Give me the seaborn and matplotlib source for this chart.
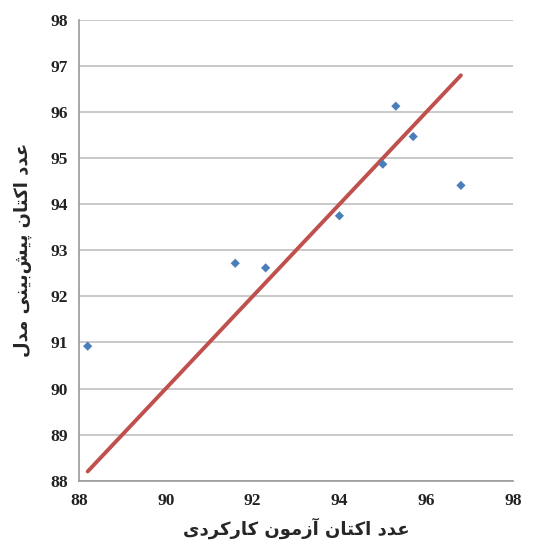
import matplotlib
matplotlib.use("Agg")
import matplotlib.pyplot as plt
import seaborn as sns
import pandas as pd

# Measured (engine test) vs. model-predicted octane numbers
measured = [88.2, 91.6, 92.3, 94.0, 95.0, 95.3, 95.7, 96.8]
predicted = [90.92, 92.72, 92.62, 93.75, 94.87, 96.13, 95.47, 94.41]

x_ticks = [88, 90, 92, 94, 96, 98]
y_ticks = [88, 89, 90, 91, 92, 93, 94, 95, 96, 97, 98]

x_label = "عدد اکتان آزمون کارکردی"
y_label = "عدد اکتان پیش‌بینی مدل"

# --- minimal Persian shaping (presentation forms + visual order) ---
FORMS = {
    # char: (isolated, final, initial, medial)
    "ا": ("\uFE8D", "\uFE8E", None, None),
    "آ": ("\uFE81", "\uFE82", None, None),
    "د": ("\uFEA9", "\uFEAA", None, None),
    "ر": ("\uFEAD", "\uFEAE", None, None),
    "ز": ("\uFEAF", "\uFEB0", None, None),
    "و": ("\uFEED", "\uFEEE", None, None),
    "ب": ("\uFE8F", "\uFE90", "\uFE91", "\uFE92"),
    "ت": ("\uFE95", "\uFE96", "\uFE97", "\uFE98"),
    "ش": ("\uFEB5", "\uFEB6", "\uFEB7", "\uFEB8"),
    "ع": ("\uFEC9", "\uFECA", "\uFECB", "\uFECC"),
    "ل": ("\uFEDD", "\uFEDE", "\uFEDF", "\uFEE0"),
    "م": ("\uFEE1", "\uFEE2", "\uFEE3", "\uFEE4"),
    "ن": ("\uFEE5", "\uFEE6", "\uFEE7", "\uFEE8"),
    "پ": ("\uFB56", "\uFB57", "\uFB58", "\uFB59"),
    "ک": ("\uFB8E", "\uFB8F", "\uFB90", "\uFB91"),
    "ی": ("\uFBFC", "\uFBFD", "\uFBFE", "\uFBFF"),
}


def joins_forward(ch):
    return ch in FORMS and FORMS[ch][2] is not None


def shape(text):
    out = []
    n = len(text)
    for i, ch in enumerate(text):
        if ch not in FORMS:
            if ch != "\u200c":
                out.append(ch)
            continue
        prev = text[i - 1] if i > 0 else ""
        nxt = text[i + 1] if i + 1 < n else ""
        join_prev = joins_forward(prev)
        join_next = joins_forward(ch) and nxt in FORMS
        iso, fin, ini, med = FORMS[ch]
        if join_prev and join_next:
            out.append(med)
        elif join_prev:
            out.append(fin)
        elif join_next:
            out.append(ini)
        else:
            out.append(iso)
    return "".join(reversed(out))


df = pd.DataFrame({"measured": measured, "predicted": predicted})
line_df = pd.DataFrame({"x": [min(measured), max(measured)],
                        "y": [min(measured), max(measured)]})

sns.set_style("white")
plt.rcParams["font.family"] = ["Liberation Serif", "DejaVu Sans"]

fig = plt.figure(figsize=(5.54, 5.41), dpi=100)
ax = fig.add_axes([0.1426, 0.1115, 0.7834, 0.8515])

sns.lineplot(data=line_df, x="x", y="y", ax=ax, color="#c0504d",
             linewidth=2.8, zorder=2)
sns.scatterplot(data=df, x="measured", y="predicted", ax=ax, marker="D",
                color="#4a7ebb", s=22, edgecolor="none", zorder=3)

ax.set_xlim(88, 98)
ax.set_ylim(88, 98)
ax.set_xticks(x_ticks)
ax.set_yticks(y_ticks)
ax.set_xticklabels([str(t) for t in x_ticks], fontsize=12.5, fontweight="bold",
                   color="#222222")
ax.set_yticklabels([str(t) for t in y_ticks], fontsize=12.5, fontweight="bold",
                   color="#222222")
ax.tick_params(axis="x", length=0, pad=9)
ax.tick_params(axis="y", length=0, pad=8)

ax.yaxis.grid(True, color="#c0c0c0", linewidth=1.2)
ax.xaxis.grid(False)
ax.set_axisbelow(True)
for side in ("top", "right"):
    ax.spines[side].set_visible(False)
for side in ("left", "bottom"):
    ax.spines[side].set_color("#9a9a9a")
    ax.spines[side].set_linewidth(1.2)

ax.set_xlabel(shape(x_label), fontsize=13, fontweight="bold",
              family="DejaVu Sans", labelpad=6)
ax.set_ylabel(shape(y_label), fontsize=13, fontweight="bold",
              family="DejaVu Sans", labelpad=13)

fig.savefig("out.png", dpi=100)
